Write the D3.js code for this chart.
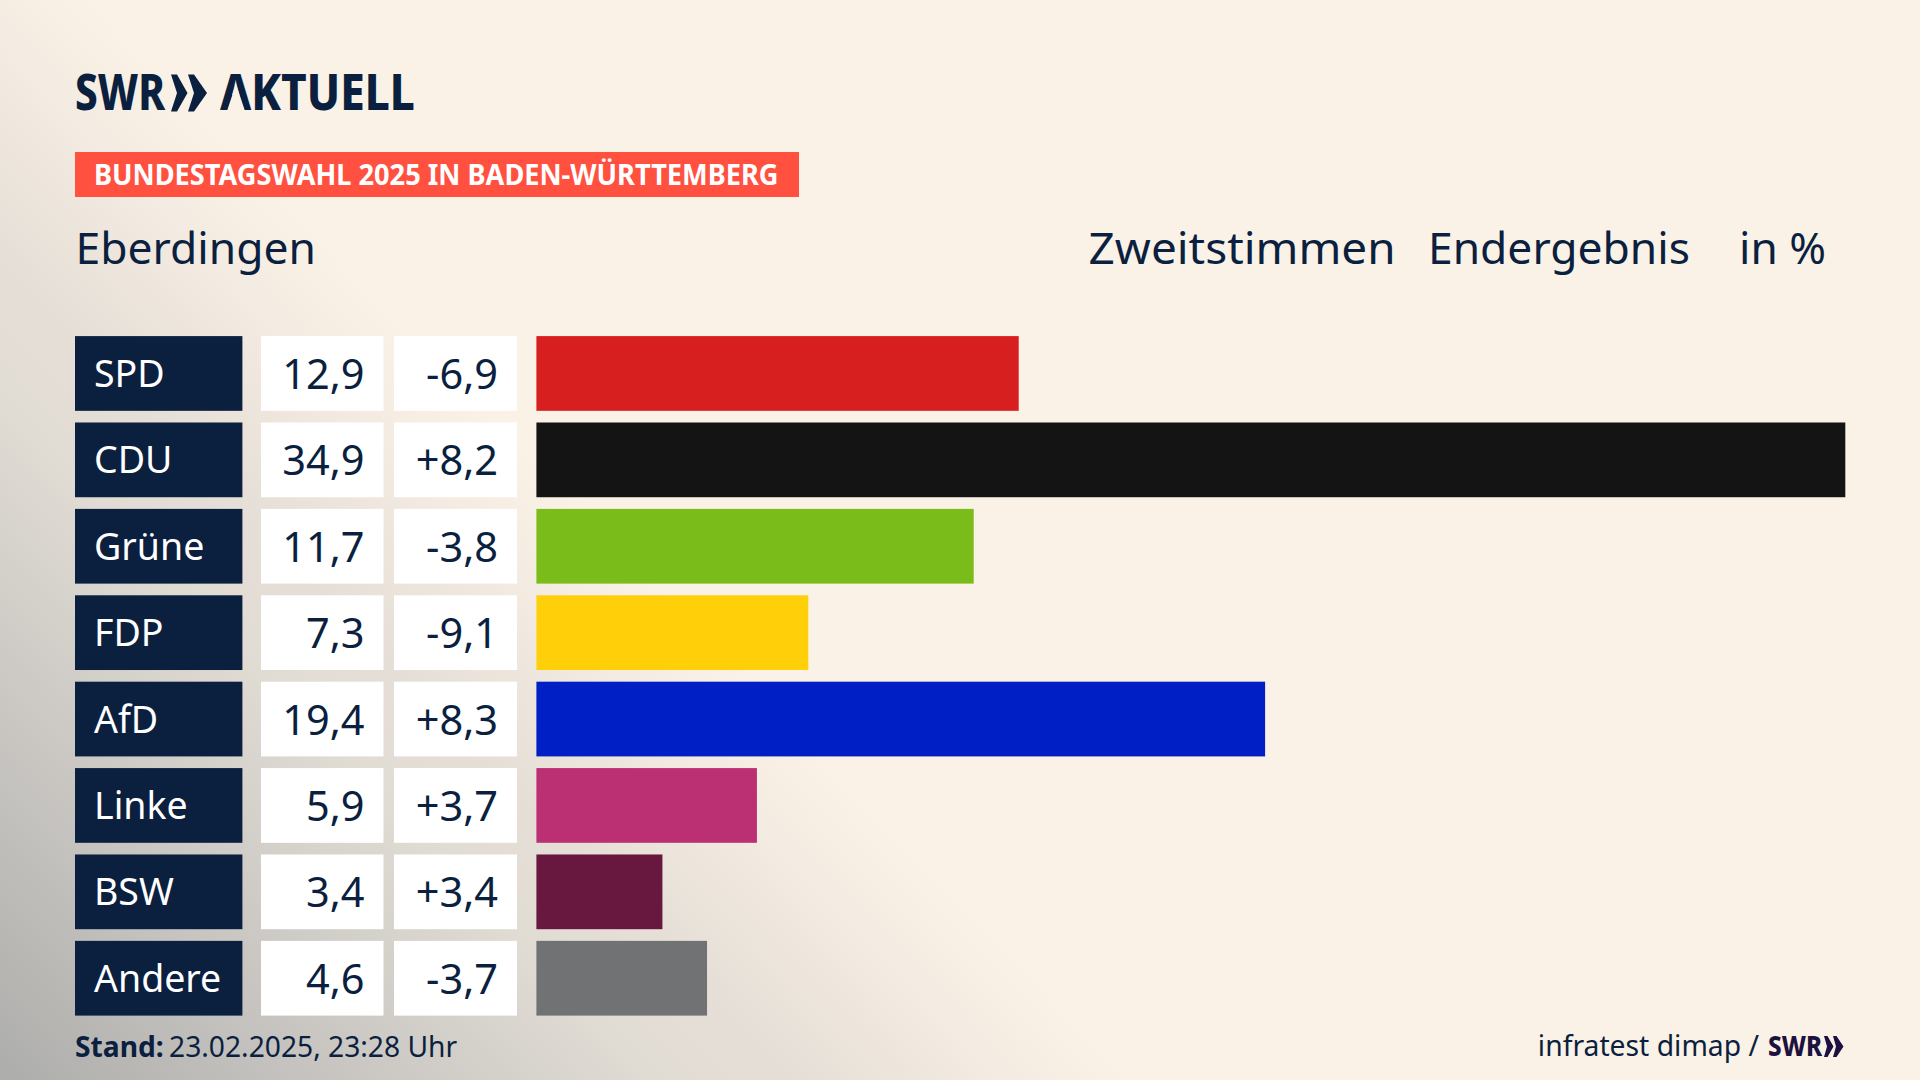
<!DOCTYPE html>
<html>
<head>
<meta charset="utf-8">
<script src="https://cdnjs.cloudflare.com/ajax/libs/d3/7.8.5/d3.min.js"></script>
<style>
  html, body { margin: 0; padding: 0; background: #fbf2e7; overflow: hidden; }
  text { font-family: "Noto Sans", sans-serif; }
</style>
</head>
<body>
<script>
// Werte
const parties = ['SPD', 'CDU', 'Grüne', 'FDP', 'AfD', 'Linke', 'BSW', 'Andere']
const results = ['12,9', '34,9', '11,7', '7,3', '19,4', '5,9', '3,4', '4,6']
const changes = ['-6,9', '+8,2', '-3,8', '-9,1', '+8,3', '+3,7', '+3,4', '-3,7']
// Balkenlaengen: ungerundete Anteile, aus der Balkenbreite geschaetzt
const shares = [12.86, 34.9, 11.66, 7.25, 19.43, 5.88, 3.36, 4.55]
const colors = ['#d81f1f', '#141414', '#7abd1a', '#ffcf0a', '#001fc4', '#bb3073', '#68183e', '#717274']

const navy = '#0b1f3f'
const cream = '#fbf2e7'
const width = 1920, height = 1080

const svg = d3.select('body').append('svg')
    .attr('width', width)
    .attr('height', height)
    .style('display', 'block')

// Hintergrund: creme, grauer Verlauf diagonal zur Ecke unten links
const grad = svg.append('defs').append('linearGradient')
    .attr('id', 'bg')
    .attr('gradientUnits', 'userSpaceOnUse')
    .attr('x1', 592).attr('y1', 508)
    .attr('x2', 0).attr('y2', 1080)
const stops = [[0, cream], [0.13, '#f3ebe1'], [0.3, '#e6dfd7'], [0.43, '#e0dbd3'], [0.56, '#d4d1cb'], [0.68, '#cac7c3'], [1, '#adadab']]
grad.selectAll('stop').data(stops).join('stop')
    .attr('offset', d => d[0])
    .attr('stop-color', d => d[1])

svg.append('rect').attr('width', width).attr('height', height).attr('fill', 'url(#bg)')

// Skalen
const x = d3.scaleLinear().domain([0, d3.max(shares)]).range([536.4, 1845.3])
const y = d3.scaleBand().domain(parties).range([336.1, 1015.6]).paddingInner(0.135)

// Pfeile im SWR-Logo
const chevron = (w, h, t, n) => `M0,0 L${t},0 L${w},${h / 2} L${t},${h} L0,${h} L${n},${h / 2} Z`

// Kopf
const logo = svg.append('g').attr('fill', navy)
logo.append('text').attr('x', 75).attr('y', 110)
    .attr('font-size', 49).attr('font-weight', 800).attr('textLength', 90).attr('lengthAdjust', 'spacingAndGlyphs')
    .text('SWR')
logo.append('text').attr('x', 220).attr('y', 110)
    .attr('font-size', 49).attr('font-weight', 800).attr('textLength', 195).attr('lengthAdjust', 'spacingAndGlyphs')
    .text('AKTUELL')
// das A im Logo hat keinen Querstrich
logo.append('path')
    .attr('d', 'M236,84 L227,111 L245,111 Z')
    .attr('fill', cream)
logo.selectAll('path.chev').data([{ x: 171, w: 16.5 }, { x: 188, w: 19 }]).join('path')
    .attr('class', 'chev')
    .attr('transform', d => `translate(${d.x},74.5)`)
    .attr('d', d => chevron(d.w, 37, 6, 6))

svg.append('rect').attr('x', 75).attr('y', 152).attr('width', 724).attr('height', 45).attr('fill', '#ff5040')
svg.append('text').attr('x', 94).attr('y', 185)
    .attr('font-size', 28).attr('font-weight', 700).attr('fill', '#fff')
    .attr('textLength', 684.5).attr('lengthAdjust', 'spacingAndGlyphs')
    .text('BUNDESTAGSWAHL 2025 IN BADEN-WÜRTTEMBERG')

const heads = [
    { t: 'Eberdingen', x: 75.5, w: 240.5 },
    { t: 'Zweitstimmen', x: 1088.6, w: 307 },
    { t: 'Endergebnis', x: 1428, w: 262 },
    { t: 'in %', x: 1739, w: 87 }
]
svg.selectAll('text.head').data(heads).join('text')
    .attr('class', 'head')
    .attr('x', d => d.x)
    .attr('y', 264)
    .attr('font-size', 44)
    .attr('fill', navy)
    .attr('textLength', d => d.w)
    .attr('lengthAdjust', 'spacingAndGlyphs')
    .text(d => d.t)

// Zeilen
const rows = svg.selectAll('g.row').data(parties).join('g')
    .attr('class', 'row')
    .attr('transform', d => `translate(0,${y(d)})`)

rows.append('rect').attr('x', 75).attr('width', 167.4).attr('height', y.bandwidth()).attr('fill', navy)
rows.append('rect').attr('x', 261).attr('width', 122.5).attr('height', y.bandwidth()).attr('fill', '#fff')
rows.append('rect').attr('x', 394).attr('width', 123).attr('height', y.bandwidth()).attr('fill', '#fff')
rows.append('rect')
    .attr('x', x(0))
    .attr('width', (d, i) => x(shares[i]) - x(0))
    .attr('height', y.bandwidth())
    .attr('fill', (d, i) => colors[i])

rows.append('text').attr('x', 94).attr('y', y.bandwidth() / 2 + 13.5)
    .attr('font-size', 37.5).attr('fill', '#fff')
    .text(d => d)
rows.append('text').attr('x', 364.5).attr('y', y.bandwidth() / 2 + 15.5)
    .attr('font-size', 41.5).attr('fill', navy).attr('text-anchor', 'end')
    .text((d, i) => results[i])
rows.append('text').attr('x', 498).attr('y', y.bandwidth() / 2 + 15.5)
    .attr('font-size', 41.5).attr('fill', navy).attr('text-anchor', 'end')
    .text((d, i) => changes[i])

// Fuss
const stand = svg.append('text').attr('x', 75).attr('y', 1057).attr('font-size', 28.2).attr('fill', navy)
stand.append('tspan').attr('font-weight', 700).text('Stand:')
stand.append('tspan').attr('dx', -2).text(' 23.02.2025, 23:28 Uhr')

svg.append('text').attr('x', 1759).attr('y', 1056).attr('font-size', 28.3).attr('fill', navy)
    .attr('text-anchor', 'end')
    .text('infratest dimap /')
const small = svg.append('g').attr('fill', '#1d1140')
small.append('text').attr('x', 1768).attr('y', 1056).attr('font-size', 28).attr('font-weight', 800)
    .attr('textLength', 54).attr('lengthAdjust', 'spacingAndGlyphs')
    .text('SWR')
small.selectAll('path').data([{ x: 1824, w: 9.5 }, { x: 1833, w: 10.5 }]).join('path')
    .attr('transform', d => `translate(${d.x},1036)`)
    .attr('d', d => chevron(d.w, 21, 3.5, 3))
</script>
</body>
</html>
